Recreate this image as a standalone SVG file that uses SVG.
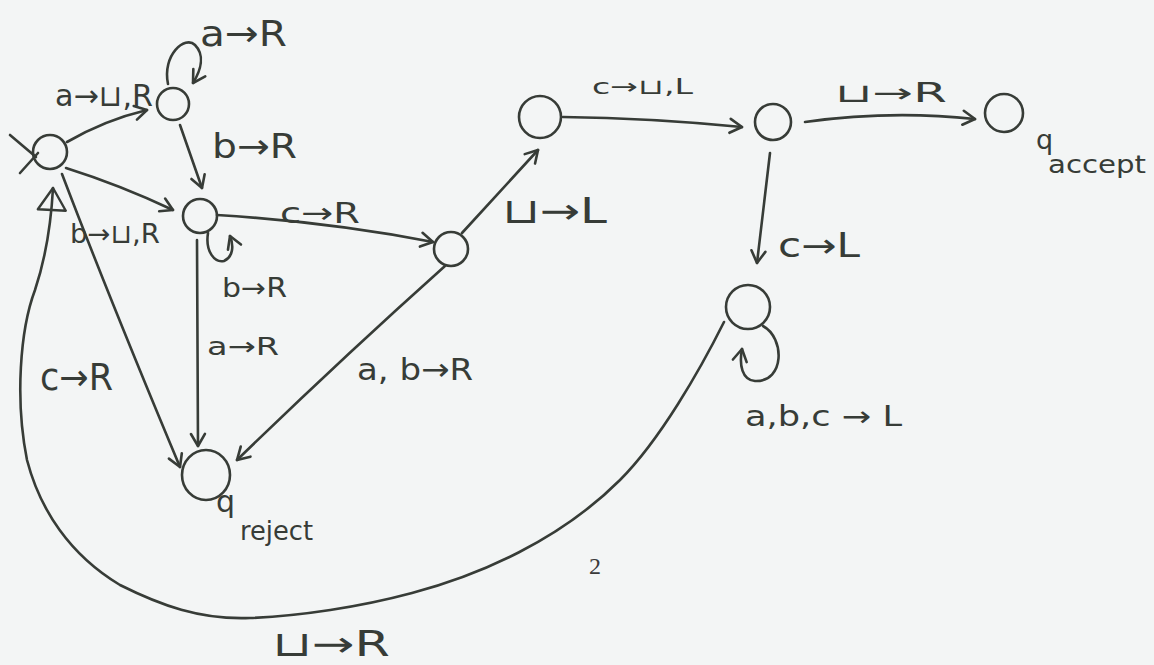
<svg xmlns="http://www.w3.org/2000/svg" width="1154" height="665" viewBox="0 0 1154 665">
<style>
.bg{fill:#f3f5f5}
.st{fill:none;stroke:#373c37;stroke-width:2.6;stroke-linecap:round;stroke-linejoin:round}
.lb{font-family:"DejaVu Sans",sans-serif;fill:#373c37}
.pg{font-family:"Liberation Serif",serif;fill:#3a3a3a}
</style>
<defs>
<marker id="ah" markerUnits="userSpaceOnUse" markerWidth="18" markerHeight="18" viewBox="0 0 18 18" refX="15" refY="9" orient="auto">
<path d="M3,2 L15,9 L3,16" fill="none" stroke="#373c37" stroke-width="2.6" stroke-linecap="round" stroke-linejoin="round"/>
</marker>
<marker id="at" markerUnits="userSpaceOnUse" markerWidth="28" markerHeight="32" viewBox="0 0 28 32" refX="24" refY="16" orient="auto">
<path d="M24,16 L2,2 L2,30 Z" fill="none" stroke="#373c37" stroke-width="2.4" stroke-linejoin="round"/>
</marker>
</defs>
<rect class="bg" x="0" y="0" width="1154" height="665"/>

<g id="connectors">
<path class="st" d="M10,135 L36,157"/>
<path class="st" d="M20,173 L38,153"/>
<path class="st" d="M67,142 Q105,120 147,110" marker-end="url(#ah)"/>
<path class="st" d="M168,84 C162,55 185,35 195,45 C205,55 201,70 193,83" marker-end="url(#ah)"/>
<path class="st" d="M180,125 L202,188" marker-end="url(#ah)"/>
<path class="st" d="M66,168 Q120,185 173,210" marker-end="url(#ah)"/>
<path class="st" d="M208,233 C205,252 215,263 224,261 C233,257 234,246 230,236" marker-end="url(#ah)"/>
<path class="st" d="M217,215 Q330,222 433,242" marker-end="url(#ah)"/>
<path class="st" d="M197,240 L198,446" marker-end="url(#ah)"/>
<path class="st" d="M445,266 Q340,360 237,460" marker-end="url(#ah)"/>
<path class="st" d="M462,233 L538,150" marker-end="url(#ah)"/>
<path class="st" d="M563,117 Q650,118 742,127" marker-end="url(#ah)"/>
<path class="st" d="M805,122 Q890,110 975,119" marker-end="url(#ah)"/>
<path class="st" d="M770,153 L757,263" marker-end="url(#ah)"/>
<path class="st" d="M763,326 C785,338 785,382 755,381 C742,380 739,365 742,349" marker-end="url(#ah)"/>
<path class="st" d="M62,174 Q110,300 180,467" marker-end="url(#ah)"/>
<path class="st" d="M724,322 C700,370 660,440 620,480 C560,540 480,575 412,593 C360,607 300,616 250,618 C200,620 160,605 120,585 C70,555 40,510 27,460 C15,400 20,330 35,290 C45,260 51,225 53,188" marker-end="url(#at)"/>
</g>

<g id="q0"><circle class="st" cx="50" cy="152" r="17"/></g>
<g id="q1"><circle class="st" cx="173" cy="104" r="16"/></g>
<g id="q2"><circle class="st" cx="200" cy="216" r="17"/></g>
<g id="q3"><circle class="st" cx="451" cy="249" r="17"/></g>
<g id="q4"><circle class="st" cx="540" cy="117" r="21"/></g>
<g id="q5"><circle class="st" cx="773" cy="122" r="18"/></g>
<g id="qaccept"><circle class="st" cx="1004" cy="113" r="19"/>
<text class="lb" x="1036" y="149" font-size="27">q</text><text class="lb" x="1048" y="173" font-size="25" textLength="98" lengthAdjust="spacingAndGlyphs">accept</text></g>
<g id="q6"><circle class="st" cx="748" cy="307" r="22"/></g>
<g id="qreject"><ellipse class="st" cx="206" cy="475" rx="24" ry="25"/>
<text class="lb" x="216" y="512" font-size="30">q</text><text class="lb" x="240" y="540" font-size="26" textLength="73" lengthAdjust="spacingAndGlyphs">reject</text></g>

<g id="labels">
<text class="lb" x="55" y="106" font-size="30" textLength="98" lengthAdjust="spacingAndGlyphs">a→⊔,R</text>
<text class="lb" x="200" y="46" font-size="36" textLength="87" lengthAdjust="spacingAndGlyphs">a→R</text>
<text class="lb" x="212" y="158" font-size="34" textLength="85" lengthAdjust="spacingAndGlyphs">b→R</text>
<text class="lb" x="70" y="243" font-size="27" textLength="90" lengthAdjust="spacingAndGlyphs">b→⊔,R</text>
<text class="lb" x="222" y="297" font-size="27" textLength="65" lengthAdjust="spacingAndGlyphs">b→R</text>
<text class="lb" x="207" y="355" font-size="25" textLength="72" lengthAdjust="spacingAndGlyphs">a→R</text>
<text class="lb" x="280" y="223" font-size="29" textLength="80" lengthAdjust="spacingAndGlyphs">c→R</text>
<text class="lb" x="40" y="390" font-size="37" textLength="73" lengthAdjust="spacingAndGlyphs">c→R</text>
<text class="lb" x="357" y="380" font-size="31" textLength="116" lengthAdjust="spacingAndGlyphs">a, b→R</text>
<text class="lb" x="502" y="223" font-size="35" textLength="105" lengthAdjust="spacingAndGlyphs">⊔→L</text>
<text class="lb" x="592" y="94" font-size="21" textLength="101" lengthAdjust="spacingAndGlyphs">c→⊔,L</text>
<text class="lb" x="835" y="102" font-size="26" textLength="112" lengthAdjust="spacingAndGlyphs">⊔→R</text>
<text class="lb" x="778" y="257" font-size="33" textLength="82" lengthAdjust="spacingAndGlyphs">c→L</text>
<text class="lb" x="745" y="426" font-size="28" textLength="157" lengthAdjust="spacingAndGlyphs">a,b,c → L</text>
<text class="lb" x="272" y="656" font-size="35" textLength="118" lengthAdjust="spacingAndGlyphs">⊔→R</text>
<text class="pg" x="589" y="574" font-size="24">2</text>
</g>
</svg>
